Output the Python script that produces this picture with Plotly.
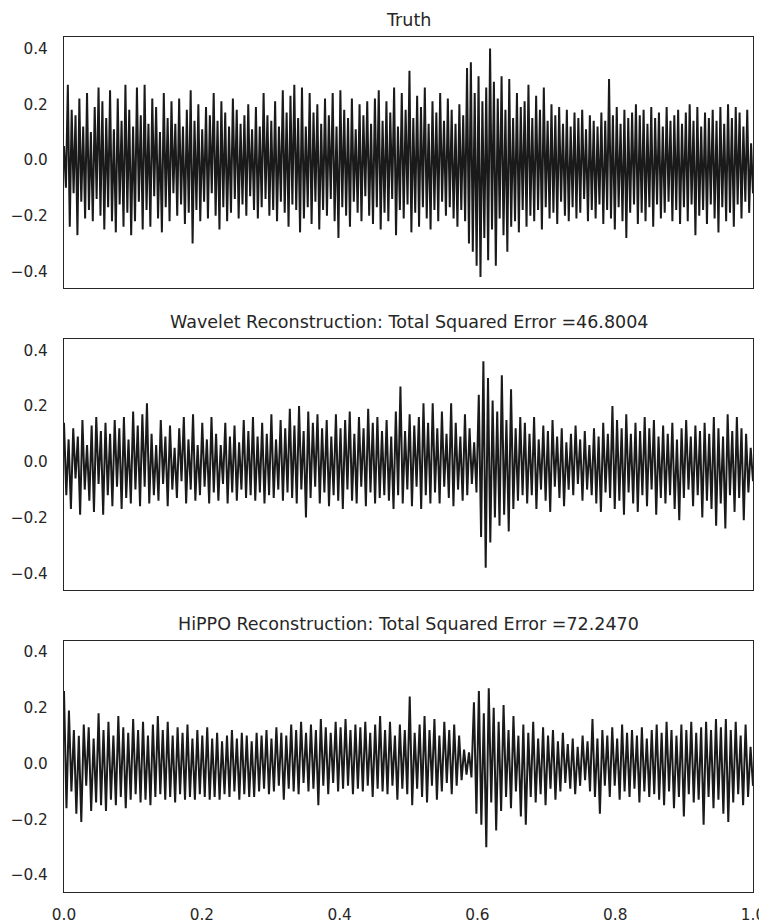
import numpy as np
import plotly.graph_objects as go

# ---------------- data ----------------
truth_values = [
    0.05, -0.10, 0.27, -0.24, 0.18, -0.12, 0.16, -0.27, 0.22, -0.15, 0.12, -0.21, 0.24, -0.18, 0.10, -0.22, 0.19, -0.14, 0.26, -0.20,
    0.21, -0.25, 0.15, -0.17, 0.25, -0.22, 0.11, -0.26, 0.22, -0.16, 0.14, -0.24, 0.27, -0.19, 0.18, -0.27, 0.12, -0.22, 0.26, -0.15,
    0.16, -0.25, 0.27, -0.18, 0.13, -0.24, 0.22, -0.13, 0.19, -0.21, 0.10, -0.26, 0.24, -0.17, 0.15, -0.22, 0.21, -0.12, 0.13, -0.20,
    0.22, -0.16, 0.12, -0.23, 0.18, -0.19, 0.25, -0.30, 0.14, -0.18, 0.20, -0.22, 0.11, -0.15, 0.19, -0.21, 0.16, -0.12, 0.24, -0.20,
    0.14, -0.25, 0.21, -0.17, 0.17, -0.22, 0.12, -0.19, 0.22, -0.14, 0.18, -0.21, 0.13, -0.16, 0.16, -0.20, 0.20, -0.13, 0.11, -0.18,
    0.19, -0.21, 0.12, -0.17, 0.24, -0.14, 0.16, -0.20, 0.14, -0.18, 0.21, -0.22, 0.12, -0.15, 0.25, -0.19, 0.17, -0.24, 0.23, -0.16,
    0.27, -0.18, 0.15, -0.26, 0.26, -0.21, 0.12, -0.17, 0.24, -0.23, 0.17, -0.15, 0.20, -0.25, 0.13, -0.18, 0.22, -0.20, 0.16, -0.14,
    0.24, -0.22, 0.12, -0.28, 0.25, -0.17, 0.18, -0.20, 0.15, -0.24, 0.22, -0.15, 0.11, -0.19, 0.20, -0.22, 0.16, -0.13, 0.21, -0.20,
    0.13, -0.23, 0.22, -0.17, 0.25, -0.25, 0.14, -0.19, 0.21, -0.22, 0.17, -0.14, 0.26, -0.27, 0.12, -0.18, 0.24, -0.21, 0.18, -0.16,
    0.32, -0.26, 0.15, -0.19, 0.23, -0.24, 0.19, -0.17, 0.26, -0.21, 0.13, -0.25, 0.21, -0.18, 0.17, -0.22, 0.24, -0.15, 0.14, -0.20,
    0.22, -0.17, 0.18, -0.21, 0.13, -0.24, 0.20, -0.18, 0.16, -0.22, 0.33, -0.30, 0.35, -0.33, 0.24, -0.38, 0.30, -0.42, 0.21, -0.28,
    0.26, -0.36, 0.40, -0.25, 0.28, -0.38, 0.22, -0.21, 0.30, -0.27, 0.18, -0.33, 0.29, -0.24, 0.15, -0.22, 0.24, -0.26, 0.19, -0.18,
    0.21, -0.24, 0.27, -0.20, 0.15, -0.22, 0.23, -0.18, 0.18, -0.25, 0.26, -0.17, 0.14, -0.21, 0.20, -0.19, 0.16, -0.23, 0.19, -0.15,
    0.13, -0.20, 0.18, -0.22, 0.12, -0.17, 0.17, -0.21, 0.15, -0.19, 0.18, -0.14, 0.11, -0.22, 0.16, -0.18, 0.14, -0.21, 0.12, -0.16,
    0.17, -0.23, 0.14, -0.18, 0.29, -0.21, 0.16, -0.25, 0.19, -0.17, 0.13, -0.22, 0.18, -0.28, 0.15, -0.19, 0.17, -0.16, 0.20, -0.23,
    0.16, -0.19, 0.18, -0.22, 0.13, -0.17, 0.19, -0.24, 0.15, -0.16, 0.17, -0.21, 0.12, -0.19, 0.19, -0.15, 0.14, -0.22, 0.16, -0.18,
    0.18, -0.23, 0.13, -0.17, 0.17, -0.22, 0.20, -0.16, 0.14, -0.27, 0.19, -0.20, 0.12, -0.18, 0.17, -0.23, 0.15, -0.16, 0.18, -0.21,
    0.14, -0.26, 0.19, -0.17, 0.13, -0.22, 0.20, -0.19, 0.15, -0.24, 0.19, -0.16, 0.17, -0.21, 0.12, -0.15, 0.18, -0.19, 0.06, -0.12,
]

wavelet_values = [
    0.14, -0.12, 0.08, -0.17, 0.12, -0.06, 0.09, -0.19, 0.15, -0.10, 0.06, -0.14, 0.13, -0.18, 0.16, -0.08, 0.11, -0.19, 0.14, -0.12,
    0.10, -0.16, 0.15, -0.09, 0.12, -0.17, 0.16, -0.13, 0.08, -0.15, 0.18, -0.10, 0.13, -0.16, 0.17, -0.09, 0.21, -0.15, 0.10, -0.12,
    0.06, -0.14, 0.15, -0.08, 0.09, -0.16, 0.13, -0.10, 0.05, -0.13, 0.12, -0.07, 0.16, -0.15, 0.08, -0.10, 0.17, -0.14, 0.06, -0.12,
    0.14, -0.09, 0.08, -0.15, 0.16, -0.11, 0.10, -0.14, 0.06, -0.08, 0.14, -0.15, 0.09, -0.11, 0.13, -0.14, 0.07, -0.10, 0.15, -0.13,
    0.11, -0.12, 0.16, -0.14, 0.09, -0.11, 0.14, -0.15, 0.10, -0.12, 0.17, -0.13, 0.08, -0.10, 0.15, -0.14, 0.12, -0.11, 0.19, -0.13,
    0.13, -0.15, 0.20, -0.10, 0.11, -0.20, 0.18, -0.13, 0.14, -0.09, 0.17, -0.15, 0.12, -0.11, 0.15, -0.16, 0.09, -0.12, 0.17, -0.14,
    0.12, -0.17, 0.15, -0.10, 0.18, -0.14, 0.10, -0.15, 0.16, -0.09, 0.12, -0.16, 0.19, -0.11, 0.14, -0.15, 0.16, -0.13, 0.11, -0.12,
    0.15, -0.14, 0.09, -0.17, 0.18, -0.12, 0.27, -0.15, 0.11, -0.10, 0.17, -0.16, 0.13, -0.09, 0.16, -0.17, 0.21, -0.12, 0.14, -0.15,
    0.21, -0.11, 0.12, -0.15, 0.18, -0.09, 0.10, -0.13, 0.21, -0.16, 0.14, -0.10, 0.09, -0.14, 0.17, -0.12, 0.12, -0.08, 0.07, -0.11,
    0.24, -0.27, 0.36, -0.38, 0.30, -0.29, 0.22, -0.20, 0.18, -0.23, 0.31, -0.19, 0.15, -0.25, 0.26, -0.17, 0.12, -0.14, 0.16, -0.12,
    0.14, -0.15, 0.10, -0.12, 0.16, -0.17, 0.08, -0.10, 0.13, -0.14, 0.11, -0.18, 0.15, -0.09, 0.09, -0.13, 0.12, -0.16, 0.07, -0.10,
    0.10, -0.12, 0.13, -0.08, 0.08, -0.14, 0.11, -0.10, 0.06, -0.12, 0.12, -0.15, 0.09, -0.18, 0.14, -0.11, 0.10, -0.13, 0.20, -0.17,
    0.15, -0.14, 0.12, -0.19, 0.17, -0.11, 0.10, -0.15, 0.14, -0.18, 0.11, -0.12, 0.16, -0.16, 0.12, -0.10, 0.15, -0.19, 0.09, -0.13,
    0.13, -0.15, 0.10, -0.12, 0.14, -0.17, 0.08, -0.21, 0.12, -0.13, 0.15, -0.10, 0.09, -0.16, 0.13, -0.12, 0.11, -0.20, 0.14, -0.14,
    0.10, -0.17, 0.16, -0.23, 0.12, -0.15, 0.09, -0.24, 0.17, -0.12, 0.11, -0.18, 0.16, -0.13, 0.12, -0.21, 0.10, -0.11, 0.05, -0.07,
]

hippo_values = [
    0.26, -0.16, 0.19, -0.10, 0.12, -0.18, 0.10, -0.21, 0.14, -0.08, 0.13, -0.17, 0.09, -0.14, 0.18, -0.15, 0.12, -0.17, 0.15, -0.13,
    0.10, -0.15, 0.17, -0.12, 0.13, -0.16, 0.11, -0.13, 0.16, -0.11, 0.12, -0.14, 0.15, -0.13, 0.10, -0.15, 0.14, -0.12, 0.17, -0.11,
    0.12, -0.13, 0.15, -0.12, 0.10, -0.14, 0.13, -0.11, 0.11, -0.13, 0.14, -0.12, 0.09, -0.13, 0.12, -0.11, 0.10, -0.12, 0.13, -0.13,
    0.09, -0.12, 0.11, -0.13, 0.08, -0.11, 0.10, -0.12, 0.12, -0.10, 0.09, -0.13, 0.11, -0.11, 0.10, -0.12, 0.08, -0.12, 0.11, -0.10,
    0.10, -0.09, 0.12, -0.11, 0.09, -0.10, 0.13, -0.08, 0.11, -0.13, 0.10, -0.09, 0.14, -0.10, 0.12, -0.11, 0.15, -0.07, 0.11, -0.10,
    0.14, -0.09, 0.12, -0.15, 0.16, -0.08, 0.13, -0.11, 0.11, -0.07, 0.15, -0.10, 0.13, -0.09, 0.16, -0.08, 0.12, -0.11, 0.14, -0.09,
    0.13, -0.10, 0.15, -0.08, 0.11, -0.12, 0.14, -0.09, 0.17, -0.10, 0.12, -0.11, 0.15, -0.08, 0.10, -0.13, 0.14, -0.09, 0.12, -0.11,
    0.24, -0.15, 0.11, -0.09, 0.14, -0.12, 0.17, -0.14, 0.12, -0.08, 0.16, -0.13, 0.10, -0.10, 0.15, -0.07, 0.12, -0.11, 0.14, -0.08,
    0.10, -0.06, 0.05, -0.04, 0.04, -0.05, 0.22, -0.18, 0.26, -0.22, 0.18, -0.30, 0.27, -0.14, 0.20, -0.24, 0.15, -0.17, 0.21, -0.12,
    0.12, -0.16, 0.17, -0.10, 0.10, -0.19, 0.14, -0.22, 0.11, -0.12, 0.15, -0.14, 0.09, -0.11, 0.13, -0.15, 0.10, -0.09, 0.12, -0.13,
    0.08, -0.10, 0.11, -0.07, 0.07, -0.09, 0.09, -0.11, 0.06, -0.08, 0.10, -0.06, 0.08, -0.10, 0.16, -0.12, 0.09, -0.18, 0.12, -0.08,
    0.10, -0.12, 0.13, -0.08, 0.09, -0.13, 0.14, -0.10, 0.11, -0.12, 0.12, -0.09, 0.10, -0.14, 0.13, -0.10, 0.09, -0.12, 0.12, -0.11,
    0.14, -0.13, 0.11, -0.15, 0.15, -0.10, 0.12, -0.16, 0.10, -0.12, 0.14, -0.19, 0.12, -0.11, 0.15, -0.14, 0.11, -0.13, 0.13, -0.22,
    0.15, -0.12, 0.12, -0.16, 0.16, -0.13, 0.13, -0.18, 0.16, -0.21, 0.12, -0.14, 0.15, -0.11, 0.10, -0.15, 0.14, -0.12, 0.06, -0.08,
]

panel_titles = [
    "Truth",
    "Wavelet Reconstruction: Total Squared Error =46.8004",
    "HiPPO Reconstruction: Total Squared Error =72.2470",
]
x_tick_values = [0.0, 0.2, 0.4, 0.6, 0.8, 1.0]
x_tick_labels = ["0.0", "0.2", "0.4", "0.6", "0.8", "1.0"]
y_tick_values = [-0.4, -0.2, 0.0, 0.2, 0.4]
y_tick_labels = ["\u22120.4", "\u22120.2", "0.0", "0.2", "0.4"]

# ---------------- figure ----------------
series = [truth_values, wavelet_values, hippo_values]
domains = [[0.706, 1.0], [0.353, 0.647], [0.0, 0.294]]
edge = "#262626"
font = "DejaVu Sans, Liberation Sans, sans-serif"

fig = go.Figure()
for i, vals in enumerate(series):
    n = len(vals)
    xs = np.linspace(0.0, 1.0, n)
    fig.add_trace(go.Scatter(
        x=xs, y=vals, mode="lines",
        line=dict(color="#1a1a1a", width=2.0),
        xaxis="x" if i == 0 else f"x{i+1}",
        yaxis="y" if i == 0 else f"y{i+1}",
        showlegend=False, hoverinfo="skip",
    ))

# page body has an 8px margin, so the figure is sized/offset to compensate
layout = dict(
    width=759, height=915,
    margin=dict(l=56, r=14, t=29, b=31, autoexpand=False),
    paper_bgcolor="white", plot_bgcolor="white",
    font=dict(family=font, size=15, color=edge),
    showlegend=False,
    annotations=[],
)
for i in range(3):
    xa = "xaxis" if i == 0 else f"xaxis{i+1}"
    ya = "yaxis" if i == 0 else f"yaxis{i+1}"
    layout[xa] = dict(
        domain=[0, 1], range=[0, 1], anchor="y" if i == 0 else f"y{i+1}",
        showline=True, mirror=True, linecolor=edge, linewidth=1.3,
        showgrid=False, zeroline=False, ticks="", automargin=False,
        tickvals=x_tick_values, ticktext=x_tick_labels,
        showticklabels=(i == 2), ticklabelstandoff=8,
        tickfont=dict(size=15.3, color=edge, family=font),
    )
    layout[ya] = dict(
        domain=domains[i], range=[-0.461, 0.441], anchor="x" if i == 0 else f"x{i+1}",
        showline=True, mirror=True, linecolor=edge, linewidth=1.3,
        showgrid=False, zeroline=False, ticks="", automargin=False,
        tickvals=y_tick_values, ticktext=y_tick_labels,
        ticklabelstandoff=12,
        tickfont=dict(size=15.3, color=edge, family=font),
    )
    layout["annotations"].append(dict(
        text=panel_titles[i], xref="paper", yref="paper",
        x=0.5, y=domains[i][1], xanchor="center", yanchor="bottom",
        yshift=5, showarrow=False,
        font=dict(size=17.5, color=edge, family=font),
    ))

fig.update_layout(**layout)
fig.write_html("out.html")
